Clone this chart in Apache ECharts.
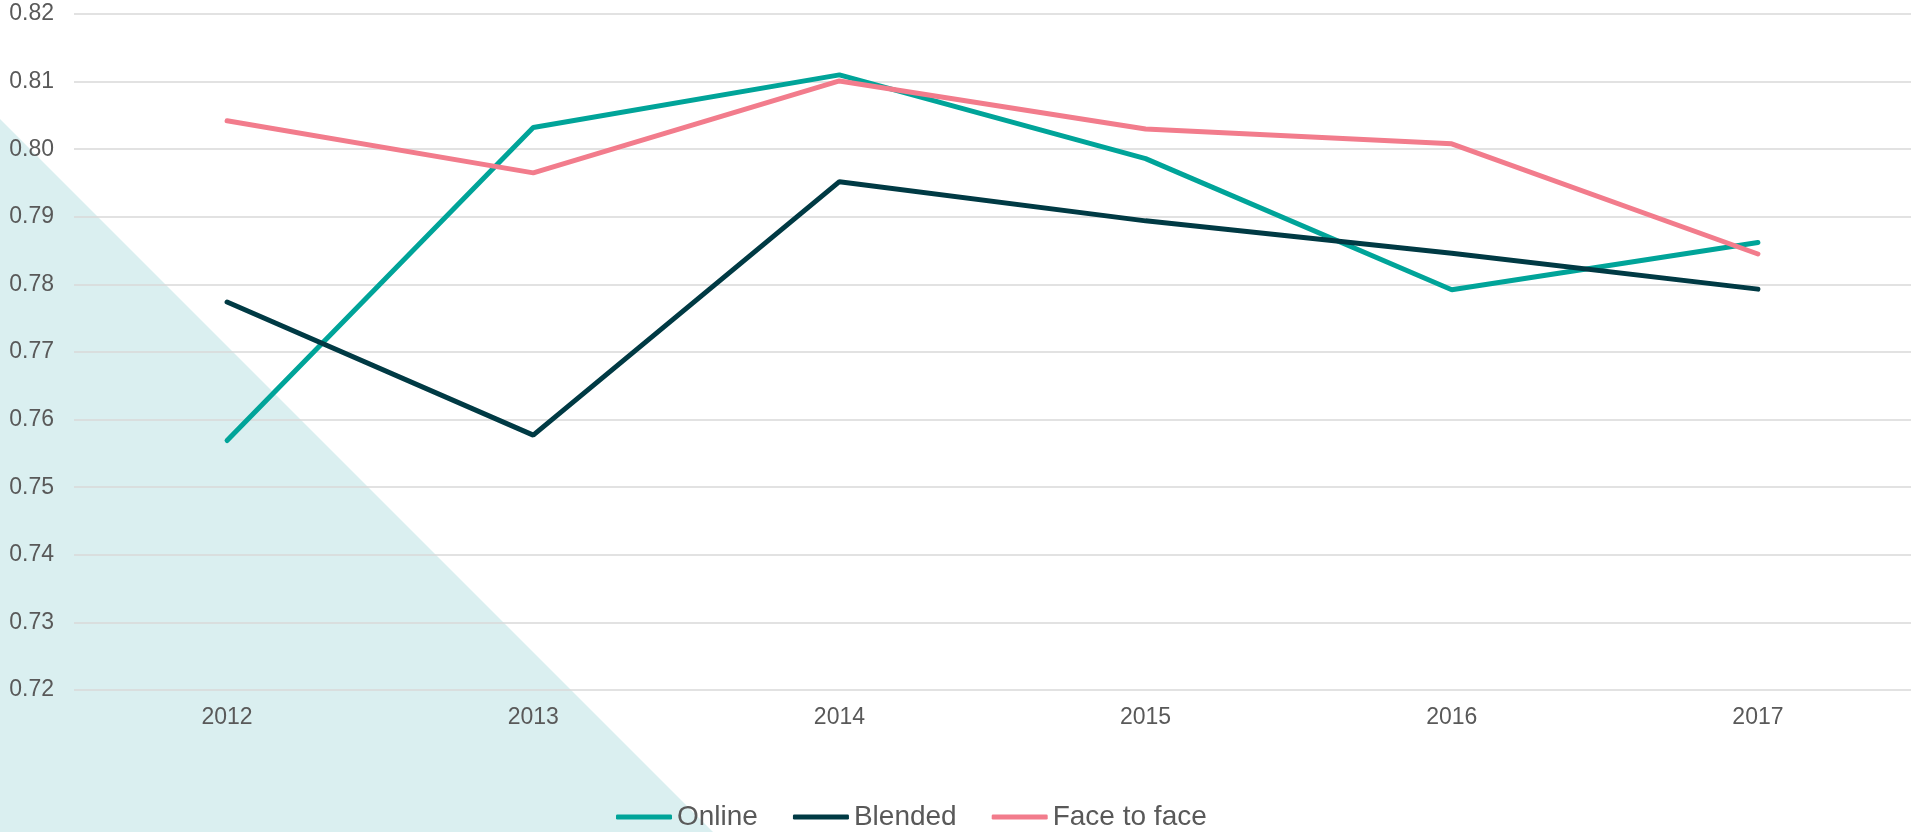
<!DOCTYPE html>
<html>
<head>
<meta charset="utf-8">
<title>Online / Blended / Face to face</title>
<script src="https://cdn.jsdelivr.net/npm/echarts@6/dist/echarts.min.js"></script>
<style>
  html, body { margin: 0; padding: 0; background: #fff; }
  #main { width: 1911px; height: 832px; }
</style>
</head>
<body>
<div id="main"></div>
<script>
// years on the x axis
var years = ['2012', '2013', '2014', '2015', '2016', '2017'];

// values
var online   = [0.7569, 0.8032, 0.8110, 0.7986, 0.7792, 0.7862];
var blended  = [0.7774, 0.7577, 0.7952, 0.7894, 0.7846, 0.7793];
var faceFace = [0.8042, 0.7965, 0.8101, 0.8030, 0.8008, 0.7845];

var seriesNames = ['Online', 'Blended', 'Face to face'];
var seriesColors = ['#00A499', '#003A44', '#F27C8C'];

var txt = '#595959';
var font = '"Liberation Sans", Arial, sans-serif';

var myChart = echarts.init(document.getElementById('main'));

function lineSeries(name, data, color) {
    return {
        name: name,
        type: 'line',
        data: data,
        symbol: 'none',
        color: color,
        lineStyle: { width: 5, color: color, cap: 'round' }
    };
}

var option = {
    animation: false,
    backgroundColor: '#fff',
    // pale teal corner shape behind the plot
    graphic: [{
        type: 'polygon',
        z: -100,
        silent: true,
        shape: { points: [[0, 119], [713, 832], [0, 832]] },
        style: { fill: '#DAEFF0' }
    }],
    grid: {
        left: 74,
        right: 0,
        top: 14,
        bottom: 142,
        containLabel: false,
        outerBoundsMode: 'none'
    },
    legend: {
        data: seriesNames,
        left: 611,
        top: 798,
        icon: 'roundRect',
        itemWidth: 56,
        itemHeight: 5,
        itemGap: 35,
        textStyle: { color: txt, fontSize: 28, fontFamily: font }
    },
    xAxis: {
        type: 'category',
        data: years,
        boundaryGap: true,
        axisLine: { show: false },
        axisTick: { show: false },
        axisLabel: { color: txt, fontSize: 23, fontFamily: font, margin: 16 }
    },
    yAxis: {
        type: 'value',
        min: 0.72,
        max: 0.82,
        interval: 0.01,
        axisLine: { show: false },
        axisTick: { show: false },
        axisLabel: {
            color: txt, fontSize: 23, fontFamily: font, margin: 20,
            formatter: function (v) { return v.toFixed(2); }
        },
        splitLine: { lineStyle: { color: '#D9D9D9', width: 1.5 } }
    },
    series: [
        lineSeries(seriesNames[0], online, seriesColors[0]),
        lineSeries(seriesNames[1], blended, seriesColors[1]),
        lineSeries(seriesNames[2], faceFace, seriesColors[2])
    ]
};

myChart.setOption(option);
</script>
</body>
</html>
